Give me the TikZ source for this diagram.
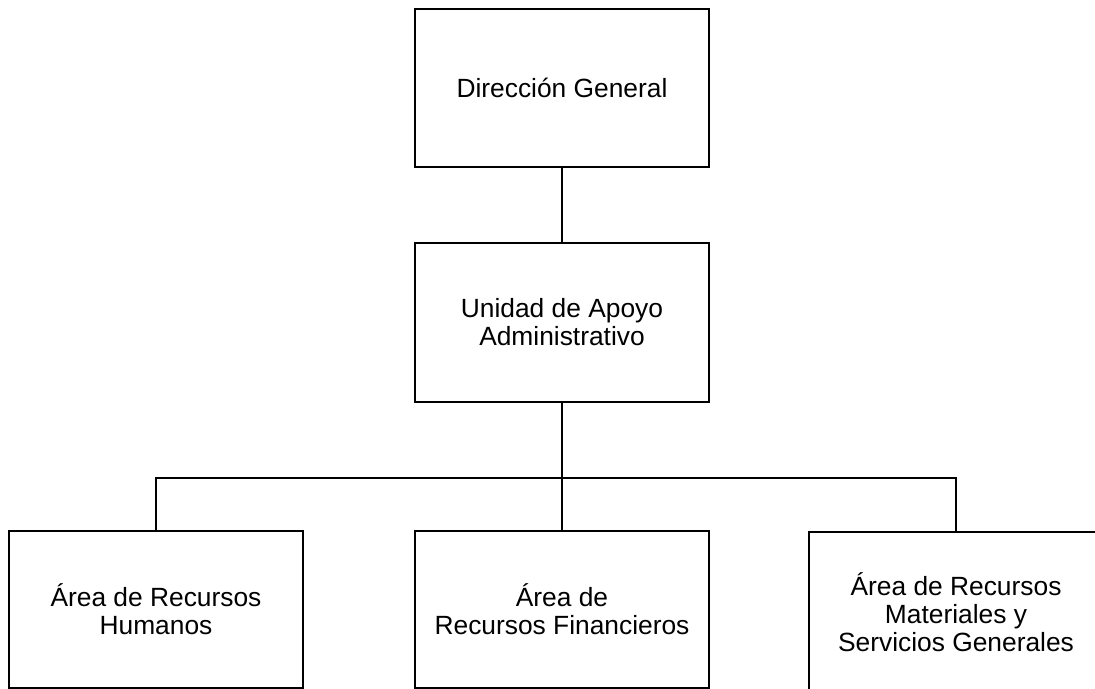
\documentclass[tikz,border=0pt]{standalone}
\usepackage{fontspec}
\setmainfont{Liberation Sans}
\usepackage{tikz}

\begin{document}
\begin{tikzpicture}[x=0.02cm,y=-0.02cm,
	caja/.style={draw=black, line width=1.6pt, minimum width=5.88cm, minimum height=3.16cm,
		align=center, inner sep=0pt, font=\fontsize{15}{16}\selectfont},
	linea/.style={black, line width=1.6pt}]

	\useasboundingbox (0,0) rectangle (1095,689);
	\clip (0,0) rectangle (1095,689);

	% direccion
	\node (dg) [caja] at (562,88) {Direcci\'on General};
	% unidad
	\node (uaa) [caja, minimum height=3.18cm] at (562,322.5) {Unidad de Apoyo\\Administrativo};
	\coordinate (bar) at (562,478);

	% areas
	\node (arh) [caja, minimum height=3.14cm] at (156,609.5) {\'Area de Recursos\\Humanos};
	\node (arf) [caja, minimum height=3.14cm] at (562,609.5) {\'Area de\\Recursos Financieros};
	\node (arm) [caja, minimum height=3.2cm] at (956,612) {\'Area de Recursos\\Materiales y\\Servicios Generales};

	% lineas
	\draw [linea] (dg) -- (uaa);
	\draw [linea] (uaa) -- (arf);
	\draw [linea] (arh.north) -- (arh.north |- bar) -- (arm.north |- bar) -- (arm.north);
\end{tikzpicture}
\end{document}
